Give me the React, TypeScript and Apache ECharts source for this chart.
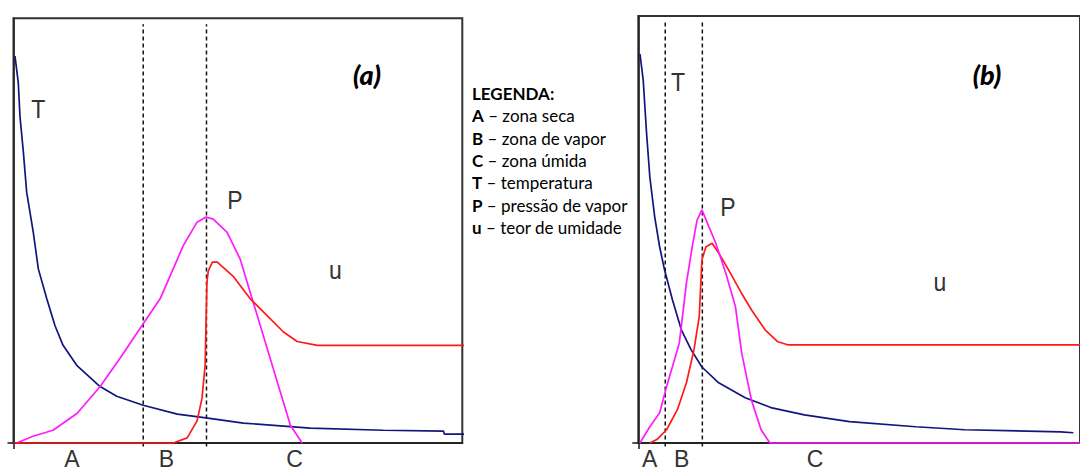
import React, { useEffect, useRef } from "react";
import * as echarts from "echarts";

// Drying profiles, normalised: x = position through the layer (0–100), y = relative level (0–100)

// Panel (a)
const tempA: number[][] = [
  [0.33, 91.1], [1.07, 84.8], [1.45, 76.8], [2.19, 68.6], [2.94, 59.0], [4.41, 49.6],
  [5.53, 41.0], [7.4, 34.0], [9.25, 27.6], [11.04, 23.0], [14.09, 18.3], [19.29, 13.3],
  [23.0, 11.0], [28.9, 8.9], [36.5, 6.8], [42.9, 5.9], [51.2, 4.7], [66.1, 3.5],
  [82.4, 3.0], [95.8, 2.8], [96.0, 2.1], [102.4, 2.1],
];
const pressureA: number[][] = [
  [0.7, 0], [4.35, 1.6], [8.8, 3.0], [14.2, 7.0], [19.3, 13.3], [23.7, 19.9], [28.9, 28.1],
  [32.7, 34.0], [37.8, 46.4], [40.9, 52.0], [42.9, 53.2], [44.5, 52.7], [47.6, 49.6],
  [50.5, 43.3], [52.7, 35.6], [55.0, 27.6], [57.2, 19.9], [59.4, 12.2], [61.7, 4.2], [64.3, 0],
];
const moistureA: number[][] = [
  [0, 0], [35.6, 0], [38.7, 1.2], [40.9, 5.2], [42.0, 10.5], [42.7, 18.3], [43.1, 37.9],
  [43.4, 40.5], [44.3, 42.6], [45.4, 42.6], [48.9, 39.3], [52.7, 34.0], [56.5, 30.0],
  [60.1, 26.2], [63.2, 23.9], [67.7, 23.0], [102.4, 23.0],
];
const boundariesA = [28.9, 43.0];
const zonePosA = [13.0, 34.1, 62.6];

// Panel (b)
const tempB: number[][] = [
  [0.38, 91.1], [1.11, 85.0], [1.87, 72.6], [2.61, 62.3], [3.72, 52.9], [4.84, 45.9],
  [5.95, 40.5], [7.74, 33.5], [9.74, 26.5], [11.97, 21.8], [14.4, 17.8], [18.2, 14.1],
  [24.2, 10.6], [30.0, 8.3], [37.6, 6.6], [47.8, 5.0], [62.8, 3.8], [73.9, 3.1],
  [95.6, 2.6], [98.5, 2.4],
];
const pressureB: number[][] = [
  [0.38, 0], [2.61, 3.8], [4.84, 7.1], [6.4, 13.2], [7.74, 17.9], [9.3, 23.5], [10.9, 37.5],
  [12.2, 45.9], [13.3, 52.2], [14.4, 54.6], [16.0, 50.6], [17.5, 46.9], [19.8, 39.8],
  [22.0, 31.9], [23.4, 21.1], [25.6, 10.1], [27.8, 3.1], [29.8, 0], [100.7, 0],
];
const moistureB: number[][] = [
  [2.61, 0], [4.2, 0.8], [6.4, 3.1], [8.85, 7.8], [10.9, 14.1], [12.6, 21.8], [13.8, 29.6],
  [14.4, 42.9], [15.3, 45.9], [16.7, 46.8], [18.2, 44.5], [20.4, 40.6], [23.3, 35.2],
  [25.6, 31.2], [28.7, 26.5], [31.6, 23.7], [33.8, 23.0], [100.7, 23.0],
];
const boundariesB = [6.1, 14.5];
const zonePosB = [2.6, 9.8, 40.0];

const zoneNames = ["A", "B", "C"];
const boundaryTop = 98.6;

const legendTitle = "LEGENDA:";
const legendItems: [string, string][] = [
  ["A", "zona seca"],
  ["B", "zona de vapor"],
  ["C", "zona úmida"],
  ["T", "temperatura"],
  ["P", "pressão de vapor"],
  ["u", "teor de umidade"],
];

const NAVY = "#14147e";
const MAGENTA = "#ff1aff";
const RED = "#ff1a1a";
const LABEL_FONT = "'Liberation Sans', Arial, sans-serif";
const CAPTION_FONT = "Lato, 'Open Sans', sans-serif";

function xAxisFor(grid: number, zonePos: number[]) {
  return {
    type: "value",
    gridIndex: grid,
    min: 0,
    max: 100,
    splitLine: { show: false },
    axisLine: { show: true, onZero: false, lineStyle: { color: "#222", width: 1.6 } },
    axisTick: { show: true, customValues: [0], length: 6, lineStyle: { color: "#222", width: 1.6 } },
    axisLabel: {
      show: true,
      customValues: zonePos,
      margin: 4,
      color: "#333",
      fontFamily: LABEL_FONT,
      fontSize: 23,
      formatter: (v: number) => {
        const i = zonePos.findIndex((p) => Math.abs(p - v) < 1e-6);
        return i >= 0 ? zoneNames[i] : "";
      },
    },
  };
}

function yAxisFor(grid: number) {
  return {
    type: "value",
    gridIndex: grid,
    min: 0,
    max: 100,
    splitLine: { show: false },
    axisLine: { show: true, onZero: false, lineStyle: { color: "#222", width: 1.6 } },
    axisTick: { show: true, customValues: [0], length: 6, lineStyle: { color: "#222", width: 1.6 } },
    axisLabel: { show: false },
  };
}

function curve(idx: number, data: number[][], color: string, z = 3) {
  return {
    type: "line",
    xAxisIndex: idx,
    yAxisIndex: idx,
    data,
    symbol: "none",
    clip: false,
    z,
    lineStyle: { color, width: 1.7 },
  };
}

function boundary(idx: number, x: number) {
  return {
    type: "line",
    xAxisIndex: idx,
    yAxisIndex: idx,
    data: [[x, -0.8], [x, boundaryTop]],
    symbol: "none",
    clip: false,
    z: 2,
    lineStyle: { color: "#111", width: 1.5, type: [4, 3] },
  };
}

function plotLabel(text: string, cx: number, cy: number) {
  return {
    type: "text",
    x: cx,
    y: cy,
    scaleY: 1.15,
    style: {
      text,
      fill: "#333",
      font: `23px ${LABEL_FONT}`,
      align: "center",
      verticalAlign: "middle",
    },
  };
}

function panelTitle(text: string, cx: number, cy: number) {
  return {
    type: "text",
    x: cx,
    y: cy,
    style: {
      text,
      fill: "#000",
      font: `italic 900 27px ${CAPTION_FONT}`,
      align: "center",
      verticalAlign: "middle",
    },
  };
}

export default function App() {
  const ref = useRef<HTMLDivElement>(null);

  useEffect(() => {
    document.body.style.margin = "0";
    if (!ref.current) return;
    const chart = echarts.init(ref.current, undefined, { renderer: "svg" });

    const legendText = [
      `{h|${legendTitle}}`,
      ...legendItems.map(([k, d]) => `{b|${k}}{n| – ${d}}`),
    ].join("\n");

    chart.setOption({
      animation: false,
      backgroundColor: "#fff",
      grid: [
        { left: 13.5, top: 18.3, width: 448.8, height: 426.7, show: true, borderColor: "#333", borderWidth: 2, backgroundColor: "transparent" },
        { left: 638.3, top: 16, width: 448.8, height: 427.3, show: true, borderColor: "#333", borderWidth: 2, backgroundColor: "transparent" },
      ],
      xAxis: [xAxisFor(0, zonePosA), xAxisFor(1, zonePosB)],
      yAxis: [yAxisFor(0), yAxisFor(1)],
      series: [
        ...boundariesA.map((x) => boundary(0, x)),
        curve(0, tempA, NAVY),
        curve(0, pressureA, MAGENTA),
        curve(0, moistureA, RED, 4),
        ...boundariesB.map((x) => boundary(1, x)),
        curve(1, tempB, NAVY),
        curve(1, moistureB, RED),
        curve(1, pressureB, MAGENTA, 4),
      ],
      graphic: [
        plotLabel("T", 38.3, 109),
        plotLabel("P", 235, 200),
        plotLabel("u", 335.5, 270),
        panelTitle("(a)", 367, 74),
        plotLabel("T", 678, 82),
        plotLabel("P", 728, 207),
        plotLabel("u", 940, 282),
        panelTitle("(b)", 987, 74),
        {
          type: "text",
          left: 472,
          top: 82,
          style: {
            text: legendText,
            fill: "#000",
            font: `17px ${CAPTION_FONT}`,
            lineHeight: 22.4,
            rich: {
              h: { fontFamily: CAPTION_FONT, fontWeight: "bold", fontSize: 17, lineHeight: 22.4, fill: "#000" },
              b: { fontFamily: CAPTION_FONT, fontWeight: "bold", fontSize: 17, lineHeight: 22.4, fill: "#000" },
              n: { fontFamily: CAPTION_FONT, fontSize: 17, lineHeight: 22.4, fill: "#000" },
            },
          },
        },
      ],
    });

    return () => chart.dispose();
  }, []);

  return <div ref={ref} style={{ width: 1080, height: 470 }} />;
}
